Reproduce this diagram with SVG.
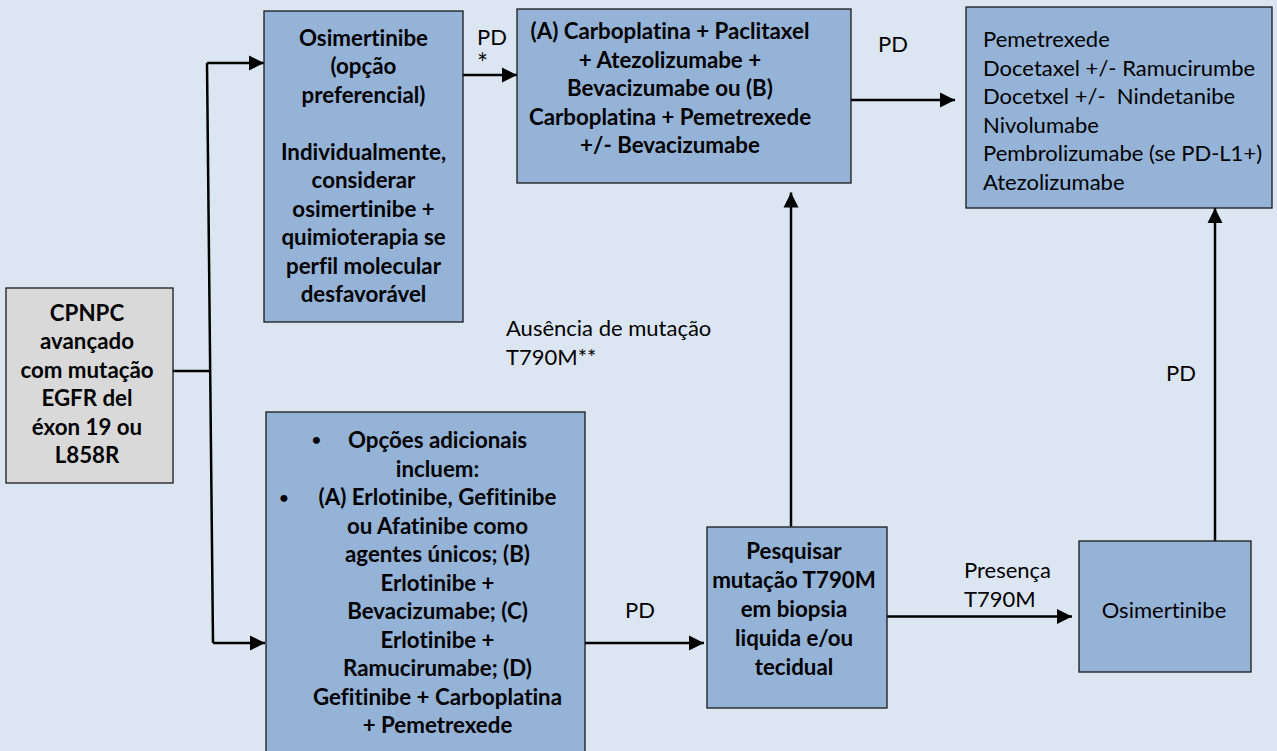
<svg xmlns="http://www.w3.org/2000/svg" width="1277" height="751" viewBox="0 0 1277 751">
<defs>
<marker id="ah" markerUnits="userSpaceOnUse" markerWidth="16" markerHeight="16" refX="15" refY="8" orient="auto">
<path d="M0,0.5 L15,8 L0,15.5 z" fill="#000"/>
</marker>
<style>
text{font-variant-ligatures:none}
.box{fill:#95b3d7;stroke:#1a1a1a;stroke-width:1.3}
.grey{fill:#d9d9d9;stroke:#1a1a1a;stroke-width:1.3}
.b{font-family:Lato,"Liberation Sans",sans-serif;font-weight:bold;font-size:22.3px;fill:#000;text-anchor:middle}
.r{font-family:Lato,"Liberation Sans",sans-serif;font-size:22px;fill:#000}
.bul{font-family:Lato,"Liberation Sans",sans-serif;font-weight:bold;font-size:16px;fill:#000;text-anchor:middle}
.c{stroke:#000;stroke-width:2.5;fill:none}
.a{stroke:#000;stroke-width:2.5;fill:none;marker-end:url(#ah)}
</style>
</defs>
<rect width="1277" height="751" fill="#dce6f2"/>

<g id="connectors">
<path class="c" d="M173,371 L210,371"/>
<path class="c" d="M207,63 L213,643"/>
<path class="a" d="M207,63 L264,63"/>
<path class="a" d="M213,643 L265,643"/>
<path class="a" d="M463,75 L517,75"/>
<path class="a" d="M851,100 L955,100"/>
<path class="a" d="M585,643 L704,643"/>
<path class="a" d="M791,526.5 L791,192.5"/>
<path class="a" d="M887,616.5 L1072,616.5"/>
<path class="a" d="M1215,541 L1215,208"/>
<text class="r" x="477" y="45">PD</text>
<text class="r" x="477" y="73" style="font-size:26px">*</text>
<text class="r" x="878" y="52">PD</text>
<text class="r" x="506" y="336">Ausência de mutação</text>
<text class="r" x="506" y="365">T790M**</text>
<text class="r" x="1166" y="381">PD</text>
<text class="r" x="625" y="618">PD</text>
<text class="r" x="964" y="578">Presença</text>
<text class="r" x="964" y="607">T790M</text>
</g>

<g id="cpnpc">
<rect class="grey" x="6" y="288" width="167" height="195"/>
<text class="b"><tspan x="87" y="320.5">CPNPC</tspan><tspan x="87" y="349">avançado</tspan><tspan x="87" y="377.5">com mutação</tspan><tspan x="87" y="406">EGFR del</tspan><tspan x="87" y="434.5">éxon 19 ou</tspan><tspan x="87" y="463">L858R</tspan></text>
</g>

<g id="osimertinibe-pref">
<rect class="box" x="264" y="11" width="199" height="311"/>
<text class="b"><tspan x="363.5" y="45.5">Osimertinibe</tspan><tspan x="363.5" y="74">(opção</tspan><tspan x="363.5" y="102.5">preferencial)</tspan><tspan x="363.5" y="159.5">Individualmente,</tspan><tspan x="363.5" y="188">considerar</tspan><tspan x="363.5" y="216.5">osimertinibe +</tspan><tspan x="363.5" y="245">quimioterapia se</tspan><tspan x="363.5" y="273.5">perfil molecular</tspan><tspan x="363.5" y="302">desfavorável</tspan></text>
</g>

<g id="quimio">
<rect class="box" x="517" y="9" width="334" height="174"/>
<text class="b"><tspan x="670" y="39">(A) Carboplatina + Paclitaxel</tspan><tspan x="670" y="67.5">+ Atezolizumabe +</tspan><tspan x="670" y="96">Bevacizumabe ou (B)</tspan><tspan x="670" y="124.5">Carboplatina + Pemetrexede</tspan><tspan x="670" y="153">+/- Bevacizumabe</tspan></text>
</g>

<g id="segunda-linha">
<rect class="box" x="966" y="7" width="306" height="201"/>
<text class="r" xml:space="preserve"><tspan x="983" y="47">Pemetrexede</tspan><tspan x="983" y="75.5">Docetaxel +/- Ramucirumbe</tspan><tspan x="983" y="104">Docetxel +/-  Nindetanibe</tspan><tspan x="983" y="132.5">Nivolumabe</tspan><tspan x="983" y="161">Pembrolizumabe (se PD-L1+)</tspan><tspan x="983" y="189.5">Atezolizumabe</tspan></text>
</g>

<g id="opcoes">
<rect class="box" x="266" y="412" width="319" height="342"/>
<text class="bul" x="316.5" y="445">•</text>
<text class="bul" x="284" y="503">•</text>
<text class="b"><tspan x="437.5" y="448">Opções adicionais</tspan><tspan x="437.5" y="476.5">incluem:</tspan><tspan x="437.5" y="505">(A) Erlotinibe, Gefitinibe</tspan><tspan x="437.5" y="533.5">ou Afatinibe como</tspan><tspan x="437.5" y="562">agentes únicos; (B)</tspan><tspan x="437.5" y="590.5">Erlotinibe +</tspan><tspan x="437.5" y="619">Bevacizumabe; (C)</tspan><tspan x="437.5" y="647.5">Erlotinibe +</tspan><tspan x="437.5" y="676">Ramucirumabe; (D)</tspan><tspan x="437.5" y="704.5">Gefitinibe + Carboplatina</tspan><tspan x="437.5" y="733">+ Pemetrexede</tspan></text>
</g>

<g id="pesquisar">
<rect class="box" x="707" y="527" width="180" height="181"/>
<text class="b"><tspan x="794" y="559">Pesquisar</tspan><tspan x="794" y="588">mutação T790M</tspan><tspan x="794" y="617">em biopsia</tspan><tspan x="794" y="646">liquida e/ou</tspan><tspan x="794" y="674.5">tecidual</tspan></text>
</g>

<g id="osimertinibe">
<rect class="box" x="1079" y="541" width="172" height="131"/>
<text class="r" x="1164" y="618" text-anchor="middle">Osimertinibe</text>
</g>
</svg>
